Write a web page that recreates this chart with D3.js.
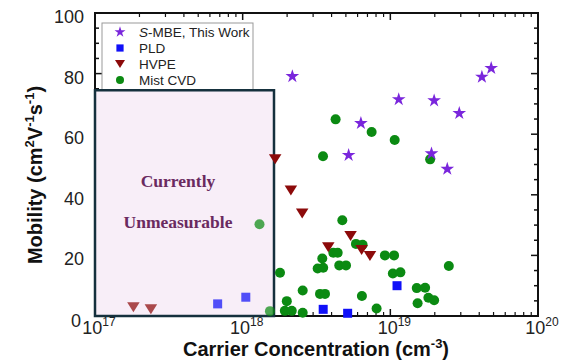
<!DOCTYPE html>
<html>
<head>
<meta charset="utf-8">
<script src="https://cdn.jsdelivr.net/npm/d3@7"></script>
<style>
  body { margin: 0; background: #fff; }
  svg { display: block; }
</style>
</head>
<body>
<svg id="chart" width="567" height="360"></svg>
<script>
// carrier concentration (cm^-3), mobility (cm^2 V^-1 s^-1)
const smbe = [
  [2.17e18, 79.1], [1.14e19, 71.5], [1.98e19, 71.1], [2.93e19, 66.9], [4.17e19, 78.9],
  [4.82e19, 81.8], [6.32e18, 63.6], [5.22e18, 53.1], [1.90e19, 53.6], [2.43e19, 48.5]
];
const pld = [
  [6.77e17, 4.0], [1.05e18, 6.2], [1.11e19, 10.0], [3.51e18, 2.2], [5.14e18, 0.9]
];
const hvpe = [
  [1.82e17, 2.9], [2.39e17, 2.2], [1.66e18, 51.7], [2.12e18, 41.4], [2.53e18, 33.8],
  [3.80e18, 22.7], [5.38e18, 26.4], [6.39e18, 21.8], [7.28e18, 19.8]
];
const mistCvd = [
  [4.26e18, 64.9], [7.47e18, 60.7], [1.07e19, 58.1], [3.50e18, 52.7], [1.86e19, 51.7],
  [4.73e18, 31.6], [5.85e18, 23.8], [6.49e18, 23.5], [4.11e18, 20.9], [4.40e18, 20.9],
  [3.46e18, 19.0], [9.19e18, 20.0], [1.06e19, 20.0], [3.22e18, 15.7], [3.51e18, 15.9],
  [4.51e18, 16.7], [5.01e18, 16.7], [1.79e18, 14.3], [1.04e19, 14.0], [1.17e19, 14.4],
  [2.49e19, 16.5], [2.55e18, 8.4], [3.34e18, 7.3], [3.61e18, 7.3], [6.42e18, 6.6],
  [1.51e19, 9.2], [1.72e19, 9.3], [1.81e19, 6.0], [1.98e19, 5.2], [1.53e19, 4.2],
  [8.07e18, 2.5], [1.99e18, 4.9], [1.93e18, 1.7], [2.15e18, 1.7], [2.55e18, 1.1],
  [1.53e18, 1.6], [1.30e18, 30.3]
];
const xDecades = [17, 18, 19, 20];
const yTicks = [0, 20, 40, 60, 80, 100];
const legendLabels = ['S-MBE, This Work', 'PLD', 'HVPE', 'Mist CVD'];
// shaded region (data units)
const boxMaxX = 1.63e18;
const boxMaxY = 74.5;

const svg = d3.select('#chart');
const plotL = 95, plotR = 538, plotT = 13, plotB = 316;

const x = d3.scaleLog().domain([1e17, 1e20]).range([plotL, plotR]);
const y = d3.scaleLinear().domain([0, 100]).range([plotB, plotT]);

const colors = { star: '#7a26dc', square: '#1010f8', tri: '#8c0a0a', circle: '#0b8a12' };

// frame
svg.append('rect')
  .attr('x', plotL).attr('y', plotT)
  .attr('width', plotR - plotL).attr('height', plotB - plotT)
  .attr('fill', 'none').attr('stroke', '#111').attr('stroke-width', 2);

// ticks on all four sides (inward)
const minorX = [];
for (let d = 17; d < 20; d++) {
  for (let m = 2; m <= 9; m++) minorX.push(m * Math.pow(10, d));
}
const ticksG = svg.append('g').attr('stroke', '#111');
xDecades.forEach((d) => {
  const px = x(Math.pow(10, d));
  ticksG.append('line').attr('x1', px).attr('x2', px).attr('y1', plotB).attr('y2', plotB - 7).attr('stroke-width', 1.5);
  ticksG.append('line').attr('x1', px).attr('x2', px).attr('y1', plotT).attr('y2', plotT + 7).attr('stroke-width', 1.5);
});
minorX.forEach((v) => {
  const px = x(v);
  ticksG.append('line').attr('x1', px).attr('x2', px).attr('y1', plotB).attr('y2', plotB - 4).attr('stroke-width', 1.2);
  ticksG.append('line').attr('x1', px).attr('x2', px).attr('y1', plotT).attr('y2', plotT + 4).attr('stroke-width', 1.2);
});
d3.range(0, 101, 5).forEach((v) => {
  const len = v % 20 === 0 ? 7 : 4;
  const py = y(v);
  ticksG.append('line').attr('x1', plotL).attr('x2', plotL + len).attr('y1', py).attr('y2', py).attr('stroke-width', 1.5);
  ticksG.append('line').attr('x1', plotR).attr('x2', plotR - len).attr('y1', py).attr('y2', py).attr('stroke-width', 1.5);
});

// y tick labels
svg.append('g').selectAll('text').data(yTicks).enter().append('text')
  .attr('x', (d) => (d === 0 ? 81 : 84))
  .attr('y', (d) => y(d) + (d === 0 ? 11 : 10))
  .attr('text-anchor', 'end')
  .attr('font-family', 'Liberation Sans, Arial, sans-serif')
  .attr('font-size', 18)
  .attr('fill', '#222')
  .text((d) => d);

// x tick labels 10^n
xDecades.forEach((d) => {
  const t = svg.append('text')
    .attr('x', x(Math.pow(10, d)) + 4)
    .attr('y', 334)
    .attr('text-anchor', 'middle')
    .attr('font-family', 'Liberation Sans, Arial, sans-serif')
    .attr('font-size', 18)
    .attr('fill', '#222');
  t.append('tspan').text('10');
  t.append('tspan').attr('font-size', 12).attr('dy', -8).text(d);
});

// axis titles
const xt = svg.append('text')
  .attr('x', 316).attr('y', 356)
  .attr('text-anchor', 'middle')
  .attr('font-family', 'Liberation Sans, Arial, sans-serif')
  .attr('font-weight', 'bold').attr('font-size', 20).attr('fill', '#111');
xt.append('tspan').text('Carrier Concentration (cm');
xt.append('tspan').attr('font-size', 13).attr('dy', -8).text('-3');
xt.append('tspan').attr('dy', 8).text(')');

const yt = svg.append('text')
  .attr('transform', 'translate(42,175) rotate(-90)')
  .attr('text-anchor', 'middle')
  .attr('font-family', 'Liberation Sans, Arial, sans-serif')
  .attr('font-weight', 'bold').attr('font-size', 20).attr('fill', '#111');
yt.append('tspan').text('Mobility (cm');
yt.append('tspan').attr('font-size', 13).attr('dy', -8).text('2');
yt.append('tspan').attr('dy', 8).text('V');
yt.append('tspan').attr('font-size', 13).attr('dy', -8).text('-1');
yt.append('tspan').attr('dy', 8).text('s');
yt.append('tspan').attr('font-size', 13).attr('dy', -8).text('-1');
yt.append('tspan').attr('dy', 8).text(')');

// marker drawing
const triPath = (w, h) => `M${-w / 2},${-h / 2}L${w / 2},${-h / 2}L0,${h / 2}Z`;
function drawMarker(g, kind, px, py, scale, opacity) {
  let m;
  if (kind === 'star') {
    m = g.append('path').attr('d', d3.symbol(d3.symbolStar, 58 * scale * scale)())
      .attr('transform', `translate(${px},${py})`);
  } else if (kind === 'square') {
    const s = 9 * scale;
    m = g.append('rect').attr('x', px - s / 2).attr('y', py - s / 2).attr('width', s).attr('height', s);
  } else if (kind === 'tri') {
    m = g.append('path').attr('d', triPath(12.5 * scale, 10 * scale))
      .attr('transform', `translate(${px},${py})`);
  } else {
    m = g.append('circle').attr('cx', px).attr('cy', py).attr('r', 5 * scale);
  }
  m.attr('fill', colors[kind]).attr('opacity', opacity);
}

// legend
const legendG = svg.append('g');
legendG.append('rect')
  .attr('x', 102).attr('y', 23).attr('width', 151).attr('height', 72)
  .attr('fill', '#fff').attr('stroke', '#999').attr('stroke-width', 1);
const legendKinds = ['star', 'square', 'tri', 'circle'];
legendLabels.forEach((label, i) => {
  const ly = 32 + i * 16;
  drawMarker(legendG, legendKinds[i], 120, ly, 0.8, 1);
  const t = legendG.append('text')
    .attr('x', 139).attr('y', ly + 5)
    .attr('font-family', 'Liberation Sans, Arial, sans-serif')
    .attr('font-size', 13.5).attr('fill', '#222');
  if (i === 0) {
    t.append('tspan').attr('font-style', 'italic').text('S');
    t.append('tspan').text(label.slice(1));
  } else {
    t.text(label);
  }
});

// shaded "unmeasurable" region
svg.append('rect')
  .attr('x', x(1e17)).attr('y', y(boxMaxY))
  .attr('width', x(boxMaxX) - x(1e17)).attr('height', y(0) - y(boxMaxY))
  .attr('fill', '#f8eef8').attr('stroke', '#15303d').attr('stroke-width', 2.5);

svg.append('text')
  .attr('x', 178).attr('y', 187)
  .attr('text-anchor', 'middle')
  .attr('font-family', 'Liberation Serif, DejaVu Serif, serif')
  .attr('font-weight', 'bold').attr('font-size', 17.5).attr('fill', '#6a2a60')
  .text('Currently');
svg.append('text')
  .attr('x', 178).attr('y', 228)
  .attr('text-anchor', 'middle')
  .attr('font-family', 'Liberation Serif, DejaVu Serif, serif')
  .attr('font-weight', 'bold').attr('font-size', 17.5).attr('fill', '#6a2a60')
  .text('Unmeasurable');

// data points
const pointsG = svg.append('g');
const inBox = (d) => d[0] < boxMaxX && d[1] < boxMaxY;
[[mistCvd, 'circle'], [hvpe, 'tri'], [pld, 'square'], [smbe, 'star']].forEach(([data, kind]) => {
  data.forEach((d) => {
    drawMarker(pointsG, kind, x(d[0]), y(d[1]), 1, inBox(d) ? 0.72 : 1);
  });
});
</script>
</body>
</html>
